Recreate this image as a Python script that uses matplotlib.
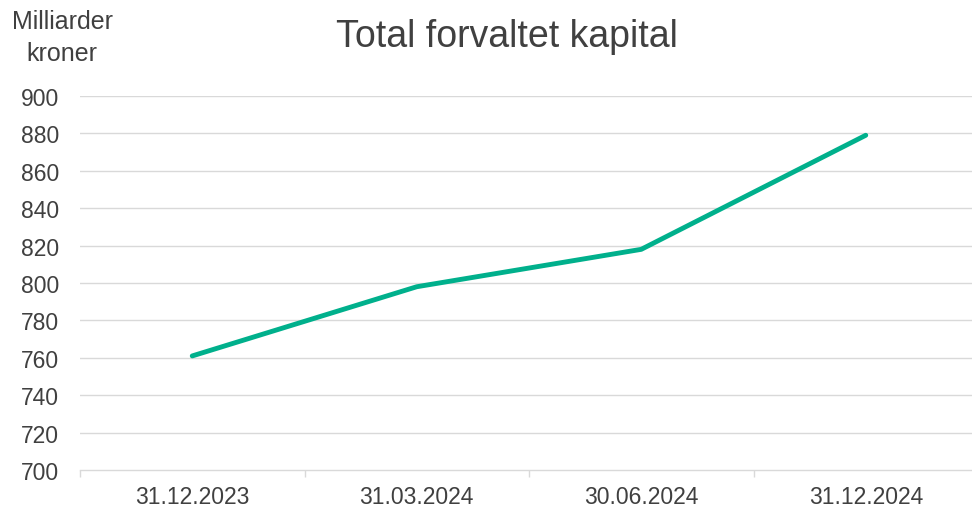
import matplotlib
matplotlib.use("Agg")
import matplotlib.pyplot as plt
from matplotlib.ticker import FixedLocator

plt.rcParams['font.family'] = ['Liberation Sans', 'DejaVu Sans']

categories = ["31.12.2023", "31.03.2024", "30.06.2024", "31.12.2024"]
values = [761, 798, 818, 879]
y_ticks = list(range(700, 901, 20))
title = "Total forvaltet kapital"
unit_label = "Milliarder\nkroner"

W, H = 972, 510
fig = plt.figure(figsize=(W / 100, H / 100), dpi=100)
ax = fig.add_axes([80 / W, (H - 471) / H, (978 - 80) / W, (471 - 97) / H])

x = list(range(len(categories)))
ax.plot(x, values, color="#00B08C", linewidth=3.5, solid_capstyle="round", zorder=3)

ax.set_xlim(-0.5, len(categories) - 0.5)
ax.set_ylim(700, 900)
ax.set_yticks(y_ticks)
ax.set_xticks(x)
ax.set_xticklabels(categories)
ax.xaxis.set_minor_locator(FixedLocator([i - 0.5 for i in range(len(categories) + 1)]))

grid_c = "#D9D9D9"
for yv in y_ticks[1:]:
    ax.axhline(yv, color=grid_c, linewidth=1.0, zorder=1)

for s in ["top", "right", "left"]:
    ax.spines[s].set_visible(False)
ax.spines["bottom"].set_color(grid_c)
ax.spines["bottom"].set_linewidth(1.0)

text_c = "#404040"
ax.tick_params(axis="y", which="both", length=0, pad=15, labelsize=16.5, labelcolor=text_c)
ax.tick_params(axis="x", which="major", length=0, pad=11, labelsize=16.5, labelcolor=text_c)
ax.tick_params(axis="x", which="minor", length=5, width=1.0, color=grid_c)

fig.text(507 / W, 1 - 37 / H, title, ha="center", va="center", fontsize=27, color=text_c)
fig.text(62 / W, 1 - 38 / H, unit_label, ha="center", va="center", fontsize=18,
         color=text_c, linespacing=1.4)

fig.savefig("out.png", dpi=100)
